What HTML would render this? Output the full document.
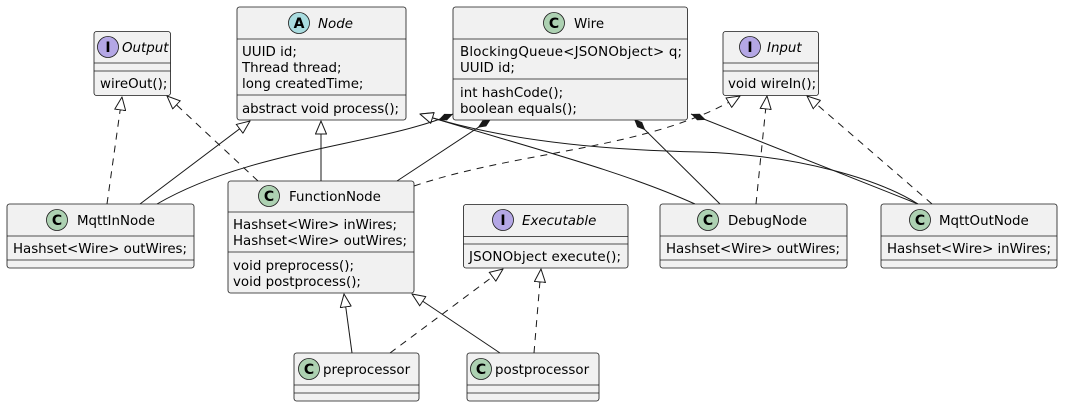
<!DOCTYPE html>
<html><head><meta charset="utf-8"><style>
html,body{margin:0;padding:0;background:#fff;}
svg{display:block;}
text{font-family:"DejaVu Sans","Liberation Sans",sans-serif;font-size:13.4px;fill:#000;}
.b{fill:#F1F1F1;stroke:#181818;stroke-width:0.8;}
.s{stroke:#181818;stroke-width:0.8;}
.e{fill:none;stroke:#181818;stroke-width:1;}
.d{stroke-dasharray:7,6;}
.ci{font-weight:bold;font-size:14px;text-anchor:middle;}
</style></head><body>
<svg width="1079" height="407" viewBox="0 0 1079 407" xmlns="http://www.w3.org/2000/svg">
<defs>
<marker id="tri" viewBox="0 0 14 12" refX="13.5" refY="6" markerWidth="14" markerHeight="12" markerUnits="userSpaceOnUse" orient="auto"><path d="M0.5,0.5 L13.5,6 L0.5,11.5 Z" fill="#fff" stroke="#181818" stroke-width="1"/></marker>
<marker id="dia" viewBox="0 0 16 8" refX="0" refY="4" markerWidth="16" markerHeight="8" markerUnits="userSpaceOnUse" orient="auto"><path d="M0,4 L8,0.5 L16,4 L8,7.5 Z" fill="#181818"/></marker>
</defs>

<path class="e d" d="M107,204 L122,97" marker-end="url(#tri)"/>
<path class="e d" d="M258,181 L167,96" marker-end="url(#tri)"/>
<path class="e" d="M140,204 L250,121" marker-end="url(#tri)"/>
<path class="e" d="M321,181 L321,121" marker-end="url(#tri)"/>
<path class="e" d="M695,204 C620,170 520,145 420,114" marker-end="url(#tri)"/>
<path class="e" d="M918,204 C880,180 800,155 700,152 C600,150 500,140 420,114" marker-end="url(#tri)"/>
<path class="e" d="M453,114 C380,145 250,150 157,204" marker-start="url(#dia)"/>
<path class="e" d="M491,119 L397,181" marker-start="url(#dia)"/>
<path class="e" d="M634,119 L720,204" marker-start="url(#dia)"/>
<path class="e" d="M691,114 L918,204" marker-start="url(#dia)"/>
<path class="e d" d="M414,186 C520,150 650,150 740,96" marker-end="url(#tri)"/>
<path class="e d" d="M756,204 L767,96" marker-end="url(#tri)"/>
<path class="e d" d="M932,204 L807,96" marker-end="url(#tri)"/>
<path class="e" d="M352,353 L344,294" marker-end="url(#tri)"/>
<path class="e" d="M500,353 L412,294" marker-end="url(#tri)"/>
<path class="e d" d="M390,353 L503,269" marker-end="url(#tri)"/>
<path class="e d" d="M534,353 L541,269" marker-end="url(#tri)"/>

<rect class="b" x="94" y="31.5" width="76.5" height="64" rx="2.5"/>
<line class="s" x1="94" y1="63" x2="170.5" y2="63"/><line class="s" x1="94" y1="71" x2="170.5" y2="71"/>
<circle cx="108" cy="47" r="10.5" fill="#B4A7E5" stroke="#181818" stroke-width="0.8"/><text class="ci" x="108" y="52">I</text>
<text x="122" y="52" font-style="italic">Output</text>
<text x="100" y="88">wireOut();</text>

<rect class="b" x="237" y="7" width="169" height="113" rx="2.5"/>
<line class="s" x1="237" y1="39" x2="406" y2="39"/><line class="s" x1="237" y1="95" x2="406" y2="95"/>
<circle cx="299" cy="23" r="10.5" fill="#A9DCDF" stroke="#181818" stroke-width="0.8"/><text class="ci" x="299" y="28">A</text>
<text x="318" y="28" font-style="italic">Node</text>
<text x="242" y="56">UUID id;</text>
<text x="242" y="72">Thread thread;</text>
<text x="242" y="88">long createdTime;</text>
<text x="242" y="113" textLength="157">abstract void process();</text>

<rect class="b" x="453" y="7" width="234.5" height="113" rx="2.5"/>
<line class="s" x1="453" y1="39" x2="687.5" y2="39"/><line class="s" x1="453" y1="79" x2="687.5" y2="79"/>
<circle cx="554" cy="23" r="10.5" fill="#ADD1B2" stroke="#181818" stroke-width="0.8"/><text class="ci" x="554" y="28">C</text>
<text x="574" y="28">Wire</text>
<text x="460" y="56" textLength="222">BlockingQueue&lt;JSONObject&gt; q;</text>
<text x="460" y="72">UUID id;</text>
<text x="460" y="97">int hashCode();</text>
<text x="460" y="113">boolean equals();</text>

<rect class="b" x="723" y="31.5" width="95.5" height="64" rx="2.5"/>
<line class="s" x1="723" y1="63" x2="818.5" y2="63"/><line class="s" x1="723" y1="71" x2="818.5" y2="71"/>
<circle cx="750" cy="47" r="10.5" fill="#B4A7E5" stroke="#181818" stroke-width="0.8"/><text class="ci" x="750" y="52">I</text>
<text x="767" y="52" font-style="italic">Input</text>
<text x="728" y="88">void wireIn();</text>

<rect class="b" x="7" y="204" width="187" height="64" rx="2.5"/>
<line class="s" x1="7" y1="236" x2="194" y2="236"/><line class="s" x1="7" y1="260" x2="194" y2="260"/>
<circle cx="57" cy="220" r="10.5" fill="#ADD1B2" stroke="#181818" stroke-width="0.8"/><text class="ci" x="57" y="225">C</text>
<text x="77" y="225">MqttInNode</text>
<text x="13" y="253" textLength="174">Hashset&lt;Wire&gt; outWires;</text>

<rect class="b" x="228" y="181" width="186" height="112" rx="2.5"/>
<line class="s" x1="228" y1="212" x2="414" y2="212"/><line class="s" x1="228" y1="252" x2="414" y2="252"/>
<circle cx="269" cy="196" r="10.5" fill="#ADD1B2" stroke="#181818" stroke-width="0.8"/><text class="ci" x="269" y="201">C</text>
<text x="289" y="201">FunctionNode</text>
<text x="233" y="229" textLength="164">Hashset&lt;Wire&gt; inWires;</text>
<text x="233" y="245" textLength="174">Hashset&lt;Wire&gt; outWires;</text>
<text x="233" y="270">void preprocess();</text>
<text x="233" y="286">void postprocess();</text>

<rect class="b" x="463.5" y="204.5" width="164.5" height="63.5" rx="2.5"/>
<line class="s" x1="463.5" y1="236.5" x2="628" y2="236.5"/><line class="s" x1="463.5" y1="244" x2="628" y2="244"/>
<circle cx="503" cy="220" r="10.5" fill="#B4A7E5" stroke="#181818" stroke-width="0.8"/><text class="ci" x="503" y="225">I</text>
<text x="522" y="225" font-style="italic">Executable</text>
<text x="469" y="261" textLength="152">JSONObject execute();</text>

<rect class="b" x="660" y="204" width="187" height="64" rx="2.5"/>
<line class="s" x1="660" y1="236" x2="847" y2="236"/><line class="s" x1="660" y1="260" x2="847" y2="260"/>
<circle cx="708" cy="220" r="10.5" fill="#ADD1B2" stroke="#181818" stroke-width="0.8"/><text class="ci" x="708" y="225">C</text>
<text x="728" y="225">DebugNode</text>
<text x="666" y="253" textLength="174">Hashset&lt;Wire&gt; outWires;</text>

<rect class="b" x="881" y="204" width="176" height="64" rx="2.5"/>
<line class="s" x1="881" y1="236" x2="1057" y2="236"/><line class="s" x1="881" y1="260" x2="1057" y2="260"/>
<circle cx="920" cy="220" r="10.5" fill="#ADD1B2" stroke="#181818" stroke-width="0.8"/><text class="ci" x="920" y="225">C</text>
<text x="939" y="225">MqttOutNode</text>
<text x="887" y="253" textLength="164">Hashset&lt;Wire&gt; inWires;</text>

<rect class="b" x="294" y="353" width="125" height="48" rx="2.5"/>
<line class="s" x1="294" y1="385" x2="419" y2="385"/><line class="s" x1="294" y1="393" x2="419" y2="393"/>
<circle cx="309" cy="369" r="10.5" fill="#ADD1B2" stroke="#181818" stroke-width="0.8"/><text class="ci" x="309" y="374">C</text>
<text x="323" y="374">preprocessor</text>

<rect class="b" x="467" y="353" width="132" height="48" rx="2.5"/>
<line class="s" x1="467" y1="385" x2="599" y2="385"/><line class="s" x1="467" y1="393" x2="599" y2="393"/>
<circle cx="481" cy="369" r="10.5" fill="#ADD1B2" stroke="#181818" stroke-width="0.8"/><text class="ci" x="481" y="374">C</text>
<text x="495" y="374">postprocessor</text>
</svg>
</body></html>
